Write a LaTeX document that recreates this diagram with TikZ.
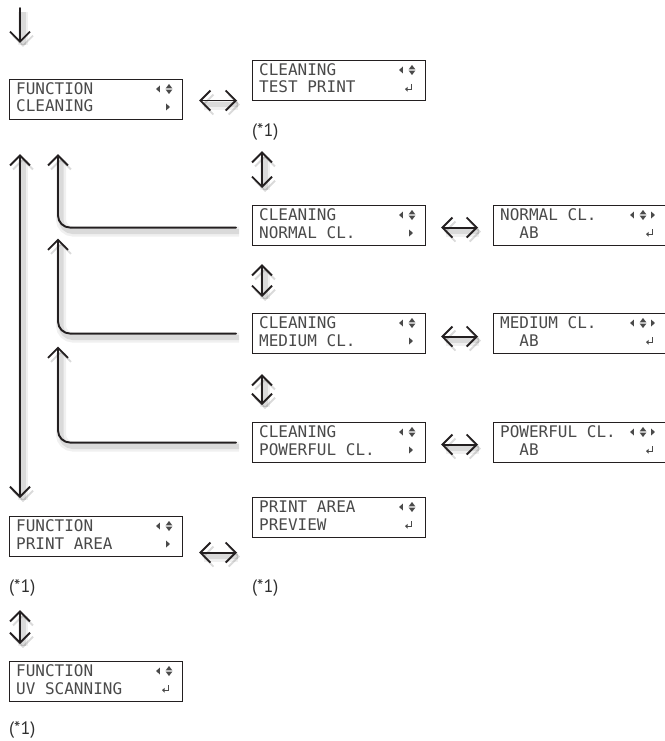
\documentclass[tikz,border=0pt]{standalone}
\usepackage{fontspec}
\setmainfont{PT Sans}
\newfontfamily\lcdfont{DejaVu Sans Mono}
\usepackage{xcolor}
\definecolor{ink}{HTML}{231F20}
\definecolor{lcdink}{HTML}{4A4A4A}
\definecolor{muted}{HTML}{2E2E2E}
\usetikzlibrary{calc,arrows.meta,positioning}

\tikzset{
	lcdbox/.style={draw=ink, line width=1.1pt, fill=white, minimum width=173pt, minimum height=40pt, inner sep=0pt, anchor=north west},
	lcdtext/.style={lcdink, font=\lcdfont\fontsize{16}{18}\selectfont, inner sep=0pt, anchor=base west},
	note/.style={muted, font=\fontsize{18}{21}\selectfont, inner sep=0pt, anchor=west},
	bigarrow/.style={ink, line width=1.9pt, line cap=round, line join=round,
		preaction={draw=black, opacity=0.06, line width=10pt, transform canvas={shift={(3pt,-4pt)}}},
		preaction={draw=black, opacity=0.09, line width=5pt, transform canvas={shift={(3pt,-4pt)}}}},
	lcdleft/.pic={\fill (1.8,-3.5) -- (1.8,3.5) -- (-1.8,0) -- cycle;},
	lcdright/.pic={\fill (-1.8,-3.5) -- (-1.8,3.5) -- (1.8,0) -- cycle;},
	lcdupdown/.pic={\fill (-3.3,-0.7) -- (3.3,-0.7) -- (0,-5) -- cycle; \fill (-3.3,0.7) -- (3.3,0.7) -- (0,5) -- cycle;},
	lcdenter/.pic={\draw[line width=1pt] (2.8,-4) -- (2.8,1.2) -- (-2,1.2); \fill (-4,1.2) -- (-1.5,-1.2) -- (-1.5,3.6) -- cycle;}
}

\begin{document}
\begin{tikzpicture}[>={Straight Barb[length=10pt,width=20pt,line width=1.9pt]}, x=1pt, y=-1pt]

	\useasboundingbox (0,0) rectangle (664,741);

	% ================= LCD screens, menu entries =================
	\foreach \n/\x/\y/\a/\b in {
		fclean/9/79/FUNCTION/CLEANING,
		cnormal/252/205/CLEANING/NORMAL CL.,
		cmedium/252/313/CLEANING/MEDIUM CL.,
		cpower/252/422/CLEANING/POWERFUL CL.,
		fprint/9/516/FUNCTION/PRINT AREA
	}{
		\node[lcdbox] (\n) at (\x,\y) {};
		\node[lcdtext] at ($(\n.north west)+(7,15.5)$) {\a};
		\node[lcdtext] at ($(\n.north west)+(7,33)$) {\b};
		\pic[lcdink] at ($(\n.north west)+(149,10)$) {lcdleft};
		\pic[lcdink] at ($(\n.north west)+(160,10)$) {lcdupdown};
		\pic[lcdink] at ($(\n.north west)+(159,28)$) {lcdright};
	}

	% ================= LCD screens, execute entries =================
	\foreach \n/\x/\y/\a/\b in {
		ctest/252/60/CLEANING/TEST PRINT,
		ppreview/252/497/PRINT AREA/PREVIEW,
		fuv/9/661/FUNCTION/UV SCANNING
	}{
		\node[lcdbox] (\n) at (\x,\y) {};
		\node[lcdtext] at ($(\n.north west)+(7,15.5)$) {\a};
		\node[lcdtext] at ($(\n.north west)+(7,33)$) {\b};
		\pic[lcdink] at ($(\n.north west)+(149,10)$) {lcdleft};
		\pic[lcdink] at ($(\n.north west)+(160,10)$) {lcdupdown};
		\pic[lcdink] at ($(\n.north west)+(157,28)$) {lcdenter};
	}

	% ================= LCD screens, setting values =================
	\foreach \n/\y/\a in {
		nab/205/NORMAL CL.,
		mab/313/MEDIUM CL.,
		pab/422/POWERFUL CL.
	}{
		\node[lcdbox] (\n) at (493,\y) {};
		\node[lcdtext] at ($(\n.north west)+(7,15.5)$) {\a};
		\node[lcdtext] at ($(\n.north west)+(7,33)$) {\phantom{00}AB};
		\pic[lcdink] at ($(\n.north west)+(139,10)$) {lcdleft};
		\pic[lcdink] at ($(\n.north west)+(150,10)$) {lcdupdown};
		\pic[lcdink] at ($(\n.north west)+(160,10)$) {lcdright};
		\pic[lcdink] at ($(\n.north west)+(157,28)$) {lcdenter};
	}

	% ================= Notes =================
	\node[note] (ntest) at ($(ctest.south west)+(0,31)$) {(*1)};
	\node[note] (npreview) at ($(ppreview.south west)+(0,50)$) {(*1)};
	\node[note] (nprint) at ($(fprint.south west)+(0,31)$) {(*1)};
	\node[note] (nuv) at ($(fuv.south west)+(0,28)$) {(*1)};

	% ================= Left column =================
	\coordinate (entry) at ($(fclean.north west)+(11,-71)$);
	\coordinate (railtop) at ($(fclean.south west)+(49,34)$);

	\draw[bigarrow, ->] (entry) -- ($(fclean.north west)+(11,-36)$);
	\draw[bigarrow, <->] ($(fclean.south west)+(11,34)$) -- ($(fprint.north west)+(11,-18)$);
	\draw[bigarrow, <->] ($(fprint.south west)+(11,53)$) -- ($(fuv.north west)+(11,-17)$);

	% return paths
	\draw[bigarrow, ->, rounded corners=12pt] ($(cnormal.west)+(-16,2)$) -| (railtop);
	\draw[bigarrow, ->, rounded corners=12pt] ($(cmedium.west)+(-16,0)$) -| ($(cnormal.west)+(-194,13)$);
	\draw[bigarrow, ->, rounded corners=12pt] ($(cpower.west)+(-16,0)$) -| ($(cmedium.west)+(-194,13)$);

	% ================= Middle column =================
	\draw[bigarrow, <->] ($(ctest.south west)+(10,50)$) -- ($(cnormal.north west)+(10,-17)$);
	\draw[bigarrow, <->] ($(cnormal.south west)+(10,18)$) -- ($(cmedium.north west)+(10,-16)$);
	\draw[bigarrow, <->] ($(cmedium.south west)+(10,20)$) -- ($(cpower.north west)+(10,-17)$);

	% ================= Horizontal links =================
	\draw[bigarrow, <->] ($(fclean.east)+(16,1)$) -- ($(ctest.west |- fclean.east)+(-15,1)$);
	\draw[bigarrow, <->] ($(cnormal.east)+(15,2)$) -- ($(nab.west)+(-15,2)$);
	\draw[bigarrow, <->] ($(cmedium.east)+(15,3)$) -- ($(mab.west)+(-15,3)$);
	\draw[bigarrow, <->] ($(cpower.east)+(15,2)$) -- ($(pab.west)+(-15,2)$);
	\draw[bigarrow, <->] ($(fprint.east)+(16,16)$) -- ($(ppreview.west |- fprint.east)+(-15,16)$);

\end{tikzpicture}
\end{document}
